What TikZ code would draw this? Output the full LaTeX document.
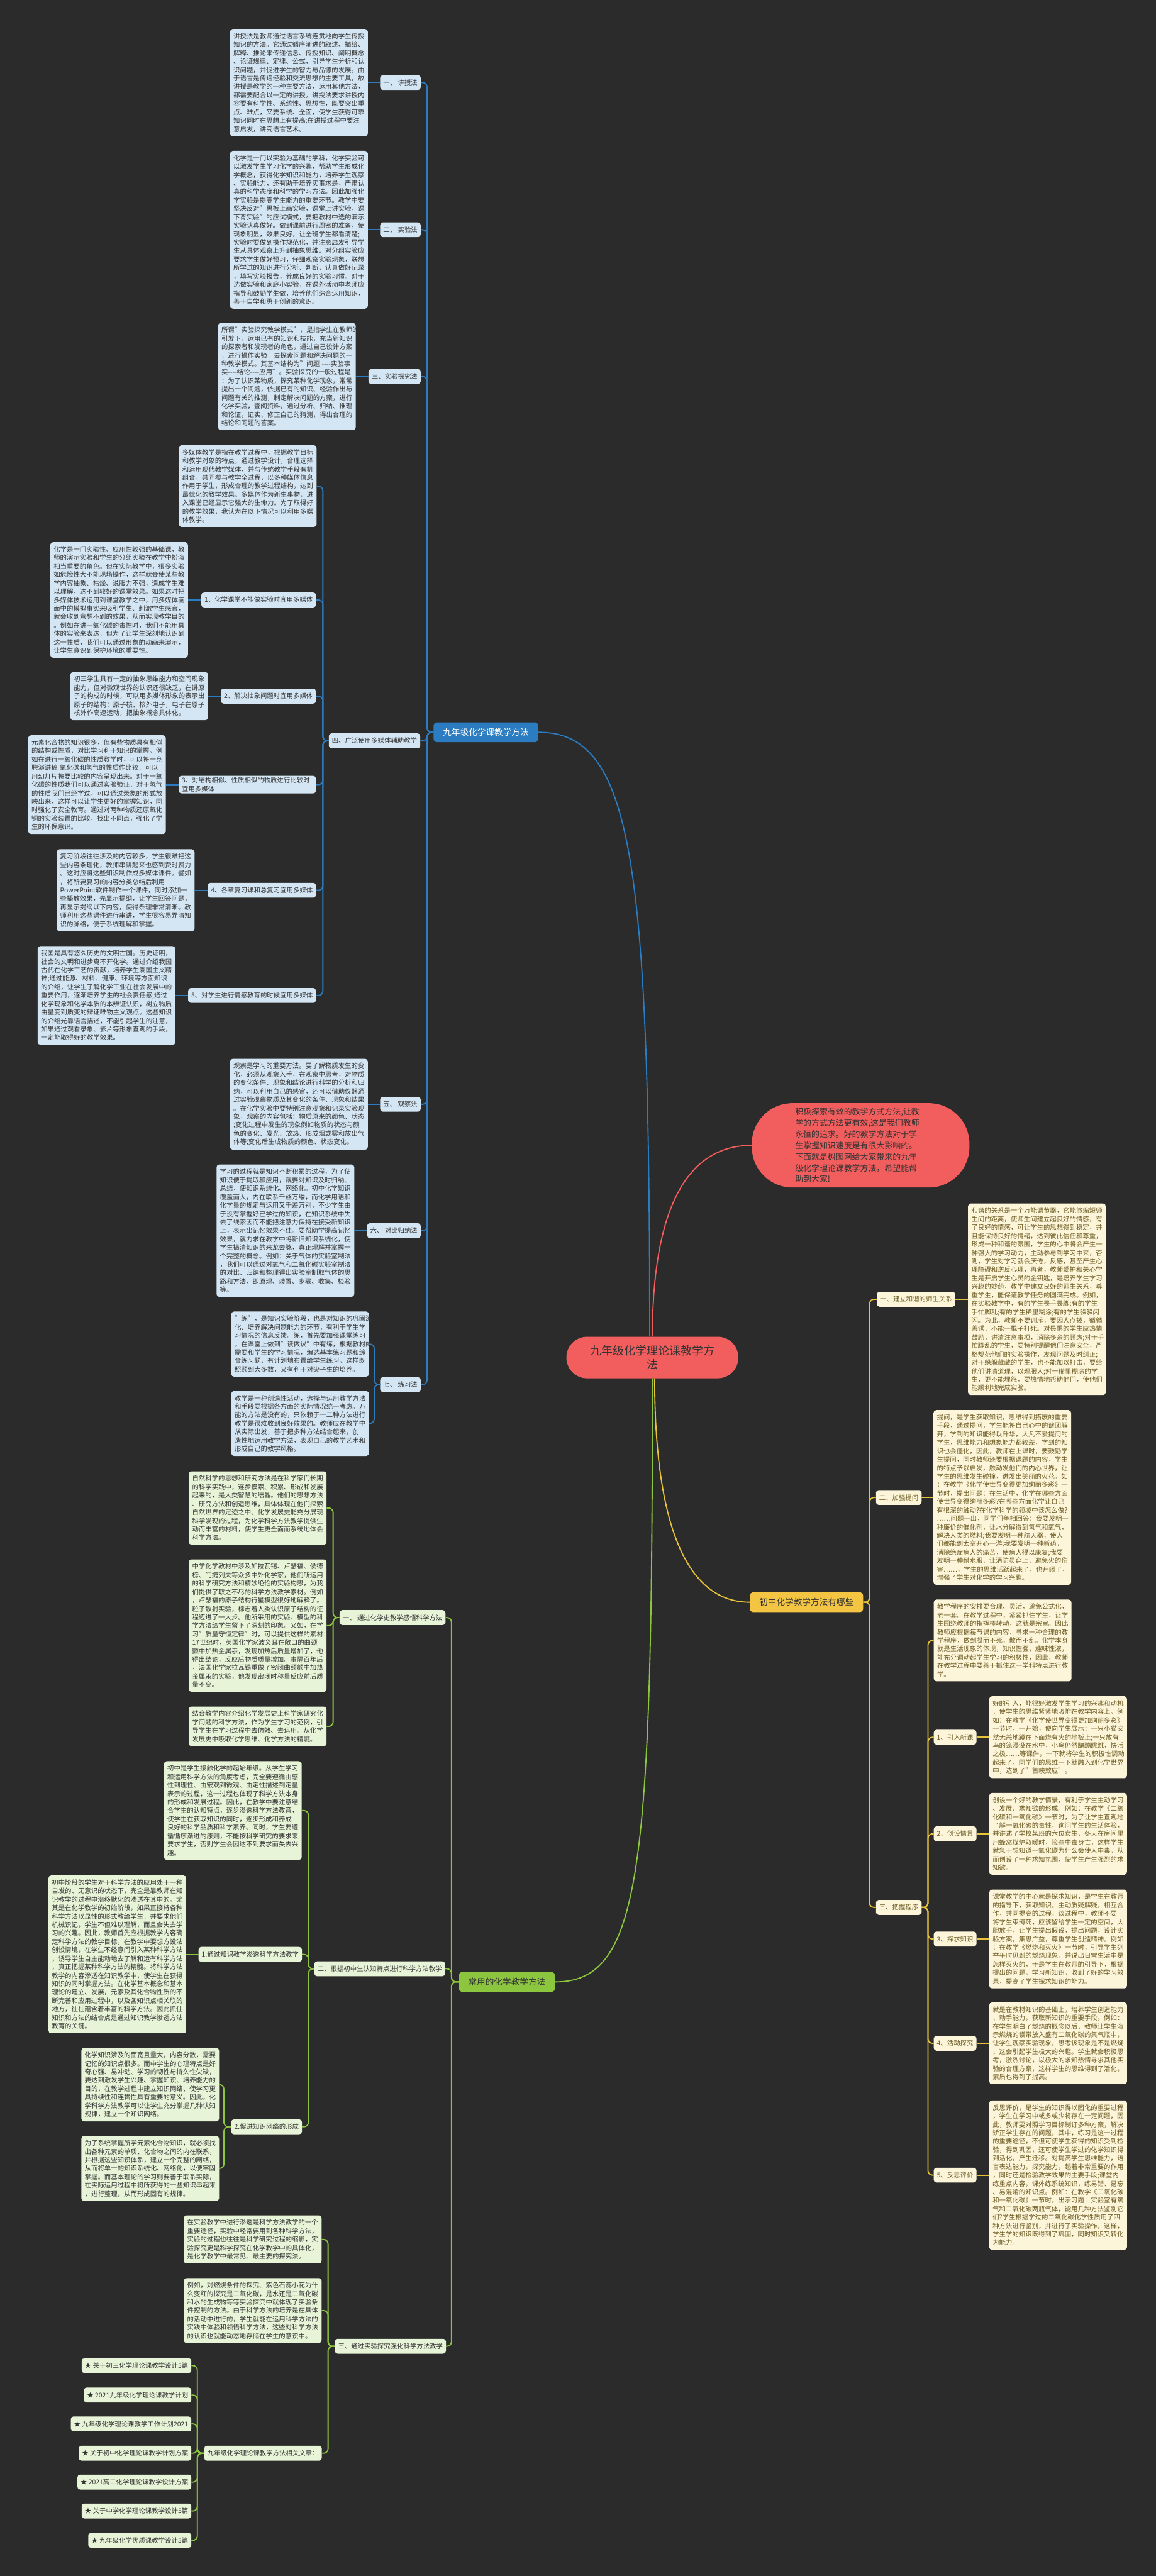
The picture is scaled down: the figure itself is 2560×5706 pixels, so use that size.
\documentclass[tikz,border=0pt]{standalone}
\usepackage{fontspec}
\setmainfont{Noto Sans CJK SC}
\usetikzlibrary{positioning}
\definecolor{bg}{HTML}{2B2B2B}
\definecolor{bluefill}{HTML}{D4E6F4}
\definecolor{blueline}{HTML}{2B7CC1}
\definecolor{greenfill}{HTML}{E8F4D8}
\definecolor{greenline}{HTML}{8CC63F}
\definecolor{yelfill}{HTML}{FDF5D9}
\definecolor{yeltext}{HTML}{6B5A22}
\definecolor{yelline}{HTML}{E8C33A}
\definecolor{orangenode}{HTML}{F4C542}
\definecolor{redfill}{HTML}{F25D5D}
\definecolor{darktext}{HTML}{333333}

\begin{document}
\begin{tikzpicture}[x=1pt,y=-1pt,
    txt/.style={font=\fontsize{14.5}{18.7}\selectfont},
    box/.style={txt,rounded corners=6pt,text width=290pt,align=left,inner xsep=7.5pt,inner ysep=9pt},
    bluebox/.style={box,fill=bluefill,text=darktext},
    greenbox/.style={box,fill=greenfill,text=darktext},
    yelbox/.style={box,fill=yelfill,text=yeltext},
    lbl/.style={txt,rounded corners=6pt,inner xsep=7pt,minimum height=33pt,align=left},
    bluelbl/.style={lbl,fill=bluefill,text=darktext},
    greenlbl/.style={lbl,fill=greenfill,text=darktext},
    yellbl/.style={lbl,fill=yelfill,text=yeltext},
    branch/.style={font=\fontsize{19}{22}\selectfont,rounded corners=8pt,inner xsep=21pt,minimum height=44pt},
    bl/.style={draw=blueline,line width=2.6pt,rounded corners=10pt},
    gl/.style={draw=greenline,line width=2.6pt,rounded corners=10pt},
    yl/.style={draw=yelline,line width=2.6pt,rounded corners=10pt},
    rl/.style={draw=redfill,line width=2.6pt}
]
\useasboundingbox (0,0) rectangle (2560,5706);
\fill[bg] (0,0) rectangle (2560,5706);

% centre and intro
\node[fill=redfill,text=darktext,rounded corners=46pt,font=\fontsize{25}{31.6}\selectfont,align=center,minimum width=381pt,minimum height=92pt] (root) at (1445,3007) {九年级化学理论课教学方\\法};
\node[fill=redfill,text=darktext,rounded corners=90pt,font=\fontsize{18}{25}\selectfont,text width=290pt,align=left,inner xsep=96pt,inner ysep=10pt,anchor=west] (intro) at (1665,2537)
    {积极探索有效的教学方式方法,让教\\学的方式方法更有效,这是我们教师\\永恒的追求。好的教学方法对于学\\生掌握知识速度是有很大影响的。\\下面就是树图网给大家带来的九年\\级化学理论课教学方法，希望能帮\\助到大家!};

\node[branch,fill=blueline,text=white,anchor=west] (blue) at (960,1622) {九年级化学课教学方法};
\node[branch,fill=orangenode,text=darktext,anchor=east] (orange) at (1912,3549) {初中化学教学方法有哪些};
\node[branch,fill=greenline,text=darktext,anchor=west] (green) at (1016,4390) {常用的化学教学方法};

% blue branch
\node[bluelbl,anchor=east] (l1) at (932,183) {一、 讲授法};
\node[bluelbl,anchor=east] (l2) at (932,509) {二、 实验法};
\node[bluelbl,anchor=east] (l3) at (932,834) {三、实验探究法};
\node[bluelbl,anchor=east] (l4) at (931,1641) {四、广泛使用多媒体辅助教学};
\node[bluelbl,anchor=east] (l5) at (932,2446) {五、 观察法};
\node[bluelbl,anchor=east] (l6) at (932,2726) {六、 对比归纳法};
\node[bluelbl,anchor=east] (l7) at (932,3067) {七、 练习法};

\node[bluebox,left=27pt of l1] (a1) {讲授法是教师通过语言系统连贯地向学生传授\\知识的方法。它通过循序渐进的叙述、描绘、\\解释、推论来传递信息、传授知识、阐明概念\\、论证规律、定律、公式，引导学生分析和认\\识问题，并促进学生的智力与品德的发展。由\\于语言是传递经验和交流思想的主要工具，故\\讲授是教学的一种主要方法，运用其他方法，\\都需要配合以一定的讲授。讲授法要求讲授内\\容要有科学性、系统性、思想性，既要突出重\\点、难点，又要系统、全面，使学生获得可靠\\知识同时在思想上有提高;在讲授过程中要注\\意启发，讲究语言艺术。};
\node[bluebox,left=27pt of l2] (a2) {化学是一门以实验为基础的学科，化学实验可\\以激发学生学习化学的兴趣，帮助学生形成化\\学概念，获得化学知识和能力，培养学生观察\\、实验能力，还有助于培养实事求是，严肃认\\真的科学态度和科学的学习方法。因此加强化\\学实验是提高学生能力的重要环节。教学中要\\坚决反对"黑板上画实验，课堂上讲实验，课\\下背实验"的应试模式，要把教材中选的演示\\实验认真做好。做到课前进行周密的准备，使\\现象明显，效果良好，让全班学生都看清楚;\\实验时要做到操作规范化，并注意启发引导学\\生从具体观察上升到抽象思维。对分组实验应\\要求学生做好预习，仔细观察实验现象，联想\\所学过的知识进行分析、判断，认真做好记录\\，填写实验报告，养成良好的实验习惯。对于\\选做实验和家庭小实验，在课外活动中老师应\\指导和鼓励学生做，培养他们综合运用知识，\\善于自学和勇于创新的意识。};
\node[bluebox,left=28pt of l3] (a3) {所谓"实验探究教学模式"，是指学生在教师的\\引发下，运用已有的知识和技能，充当新知识\\的探索者和发现者的角色，通过自己设计方案\\，进行操作实验，去探索问题和解决问题的一\\种教学模式。其基本结构为"问题 -\kern0pt-\kern0pt-\kern0pt-实验事\\实-\kern0pt-\kern0pt-\kern0pt-结论-\kern0pt-\kern0pt-\kern0pt-应用"。实验探究的一般过程是\\：为了认识某物质，探究某种化学现象，常常\\提出一个问题，依据已有的知识、经验作出与\\问题有关的推测，制定解决问题的方案，进行\\化学实验，查阅资料，通过分析、归纳、推理\\和论证，证实、修正自己的猜测，得出合理的\\结论和问题的答案。};
\node[bluebox,anchor=north west] (d0) at (396,986) {多媒体教学是指在教学过程中，根据教学目标\\和教学对象的特点，通过教学设计，合理选择\\和运用现代教学媒体，并与传统教学手段有机\\组合，共同参与教学全过程，以多种媒体信息\\作用于学生，形成合理的教学过程结构，达到\\最优化的教学效果。多媒体作为新生事物，进\\入课堂已经显示它强大的生命力。为了取得好\\的教学效果，我认为在以下情况可以利用多媒\\体教学。};
\node[bluelbl,anchor=east] (i1) at (700,1329) {1、化学课堂不能做实验时宜用多媒体};
\node[bluelbl,anchor=east] (i2) at (700,1542) {2、解决抽象问题时宜用多媒体};
\node[bluelbl,anchor=east,text width=290pt] (i3) at (700,1738) {3、对结构相似、性质相似的物质进行比较时\\宜用多媒体};
\node[bluelbl,anchor=east] (i4) at (700,1972) {4、各章复习课和总复习宜用多媒体};
\node[bluelbl,anchor=east] (i5) at (700,2205) {5、对学生进行情感教育的时候宜用多媒体};
\node[bluebox,left=29pt of i1] (e1) {化学是一门实验性、应用性较强的基础课，教\\师的演示实验和学生的分组实验在教学中扮演\\相当重要的角色。但在实际教学中，很多实验\\如危险性大不能现场操作，这样就会使某些教\\学内容抽象、枯燥、说服力不强，造成学生难\\以理解，达不到较好的课堂效果。如果这时把\\多媒体技术运用到课堂教学之中，用多媒体画\\面中的模拟事实来吸引学生、刺激学生感官，\\就会收到意想不到的效果，从而实现教学目的\\。例如在讲一氧化碳的毒性时，我们不能用具\\体的实验来表达，但为了让学生深刻地认识到\\这一性质，我们可以通过形象的动画来演示，\\让学生意识到保护环境的重要性。};
\node[bluebox,left=28pt of i2] (e2) {初三学生具有一定的抽象思维能力和空间现象\\能力，但对微观世界的认识还很缺乏，在讲原\\子的构成的时候，可以用多媒体形象的表示出\\原子的结构：原子核、核外电子，电子在原子\\核外作高速运动，把抽象概念具体化。};
\node[bluebox,left=28pt of i3] (e3) {元素化合物的知识很多，但有些物质具有相似\\的结构或性质，对比学习利于知识的掌握。例\\如在进行一氧化碳的性质教学时，可以将一竞\\聘演讲稿 氧化碳和氢气的性质作比较，可以\\用幻灯片将要比较的内容呈现出来。对于一氧\\化碳的性质我们可以通过实验验证，对于氢气\\的性质我们已经学过，可以通过录象的形式放\\映出来，这样可以让学生更好的掌握知识，同\\时强化了安全教育。通过对两种物质还原氧化\\铜的实验装置的比较，找出不同点，强化了学\\生的环保意识。};
\node[bluebox,left=29pt of i4] (e4) {复习阶段往往涉及的内容较多，学生很难把这\\些内容条理化，教师串讲起来也感到费时费力\\。这时应将这些知识制作成多媒体课件。譬如\\，将所要复习的内容分类总结后利用\\PowerPoint软件制作一个课件，同时添加一\\些播放效果，先显示提纲，让学生回答问题，\\再显示提纲以下内容，使得条理非常清晰。教\\师利用这些课件进行串讲，学生很容易弄清知\\识的脉络，便于系统理解和掌握。};
\node[bluebox,left=28pt of i5] (e5) {我国是具有悠久历史的文明古国。历史证明，\\社会的文明和进步离不开化学。通过介绍我国\\古代在化学工艺的贡献，培养学生爱国主义精\\神;通过能源、材料、健康、环境等方面知识\\的介绍，让学生了解化学工业在社会发展中的\\重要作用，逐渐培养学生的社会责任感;通过\\化学现象和化学本质的本辨证认识，树立物质\\由量变到质变的辩证唯物主义观点。这些知识\\的介绍光靠语言描述，不能引起学生的注意，\\如果通过观看录象、影片等形象直观的手段，\\一定能取得好的教学效果。};
\node[bluebox,left=27pt of l5] (a5) {观察是学习的重要方法。要了解物质发生的变\\化，必须从观察入手，在观察中思考，对物质\\的变化条件、现象和结论进行科学的分析和归\\纳，可以利用自己的感官，还可以借助仪器通\\过实验观察物质及其变化的条件、现象和结果\\。在化学实验中要特别注意观察和记录实验现\\象，观察的内容包括：物质原来的颜色、状态\\;变化过程中发生的现象例如物质的状态与颜\\色的变化、发光、放热、形成烟或雾和放出气\\体等;变化后生成物质的颜色、状态变化。};
\node[bluebox,left=28pt of l6] (a6) {学习的过程就是知识不断积累的过程，为了使\\知识便于提取和应用，就要对知识及时归纳、\\总结，使知识系统化、网络化。初中化学知识\\覆盖面大，内在联系千丝万缕，而化学用语和\\化学量的规定与运用又千差万别，不少学生由\\于没有掌握好已学过的知识，在知识系统中失\\去了线索因而不能把注意力保持在接受新知识\\上，表示出记忆效果不佳。要帮助学提高记忆\\效果，就力求在教学中将新旧知识系统化，使\\学生搞清知识的来龙去脉，真正理解并掌握一\\个完整的概念。例如：关于气体的实验室制法\\，我们可以通过对氧气和二氧化碳实验室制法\\的对比、归纳和整理得出实验室制取气体的思\\路和方法，即原理、装置、步骤、收集、检验\\等。};
\node[bluebox,anchor=north west] (pr1) at (512,2905) {"练"，是知识实验阶段，也是对知识的巩固深\\化、培养解决问题能力的环节，有利于学生学\\习情况的信息反馈。练，首先要加强课堂练习\\，在课堂上做到"读做议"中有练，根据教材的\\需要和学生的学习情况，编选基本练习题和综\\合练习题，有计划地布置给学生练习，这样既\\照顾到大多数，又有利于对尖子生的培养。};
\node[bluebox,anchor=north west] (pr2) at (512,3081) {教学是一种创造性活动，选择与运用教学方法\\和手段要根据各方面的实际情况统一考虑。万\\能的方法是没有的，只依赖于一二种方法进行\\教学是很难收到良好效果的。教师应在教学中\\从实际出发，善于把多种方法结合起来，创\\造性地运用教学方法，表现自己的教学艺术和\\形成自己的教学风格。};

\foreach \n in {l1,l2,l3,l4,l5,l6,l7}
    \draw[bl] (\n.east) -| ([xshift=-14pt]blue.west) -- (blue.west);
\foreach \b/\l in {a1/l1,a2/l2,a3/l3,a5/l5,a6/l6}
    \draw[bl] (\b.east) -- (\l.west);
\foreach \n in {d0,i1,i2,i3,i4,i5}
    \draw[bl] (\n.east) -| ([xshift=-13pt]l4.west) -- (l4.west);
\foreach \n in {1,...,5}
    \draw[bl] (e\n.east) -- (i\n.west);
\foreach \n in {pr1,pr2}
    \draw[bl] (\n.east) -| ([xshift=-13pt]l7.west) -- (l7.west);

% yellow branch
\node[yellbl,anchor=west] (y1) at (1942,2878) {一、建立和谐的师生关系};
\node[yellbl,anchor=west] (y2) at (1940,3317) {二、加强提问};
\node[yellbl,anchor=west] (y3) at (1940,4225) {三、把握程序};
\node[yelbox,right=28pt of y1] (h1) {和谐的关系是一个万能调节器，它能够缩短师\\生间的距离，使师生间建立起良好的情感，有\\了良好的情感，可让学生的思想得到稳定，并\\且能保持良好的情绪，达到彼此信任和尊重，\\形成一种和谐的氛围，学生的心中将会产生一\\种强大的学习动力，主动参与到学习中来，否\\则，学生对学习就会厌倦，反感，甚至产生心\\理障碍和逆反心理，再者，教师爱护和关心学\\生是开启学生心灵的金钥匙，是培养学生学习\\兴趣的妙药，教学中建立良好的师生关系，尊\\重学生，能保证教学任务的圆满完成。例如，\\在实验教学中，有的学生畏手畏脚;有的学生\\手忙脚乱;有的学生稀里糊涂;有的学生躲躲闪\\闪。为此，教师不要训斥，要因人点拨，循循\\善诱，不能一棍子打死。对畏惧的学生应热情\\鼓励，讲清注意事项，消除多余的顾虑;对于手\\忙脚乱的学生，要特别提醒他们注意安全，严\\格规范他们的实验操作，发现问题及时纠正;\\对于躲躲藏藏的学生，也不能加以打击，要给\\他们讲清道理，以理服人;对于稀里糊涂的学\\生，更不能埋怨，要热情地帮助他们，使他们\\能顺利地完成实验。};
\node[yelbox,right=26pt of y2] (h2) {提问，是学生获取知识，思维得到拓展的重要\\手段，通过提问，学生能将自己心中的谜团解\\开，学到的知识能得以升华，大凡不爱提问的\\学生，思维能力和想象能力都较差，学到的知\\识也会僵化，因此，教师在上课时，要鼓励学\\生提问，同时教师还要根据课题的内容，学生\\的特点予以启发，触动发他们的内心世界，让\\学生的思维发生碰撞，迸发出美丽的火花。如\\：在教学《化学使世界变得更加绚丽多彩》一\\节时，提出问题：在生活中，化学在哪些方面\\使世界变得绚丽多彩?在哪些方面化学让自己\\有很深的触动?在化学科学的领域中该怎么做?\\……问题一出，同学们争相回答：我要发明一\\种廉价的催化剂，让水分解得到氢气和氧气，\\解决人类的燃料;我要发明一种航天器，使人\\们都能到太空开心一游;我要发明一种新药，\\消除绝症病人的痛苦，使病人得以康复;我要\\发明一种耐水服，让消防员穿上，避免火的伤\\害……，学生的思维活跃起来了，也开阔了，\\增强了学生对化学的学习兴趣。};
\node[yelbox,anchor=north west] (c0) at (2068,3543) {教学程序的安排要合理、灵活，避免公式化，\\老一套。在教学过程中，紧紧抓住学生，让学\\生围绕教师的指挥棒转动，这就是宗旨。因此\\教师应根据每节课的内容，寻求一种合理的教\\学程序，做到凝而不死，散而不乱。化学本身\\就是生活现象的体现，知识性强，趣味性浓，\\能充分调动起学生学习的积极性，因此，教师\\在教学过程中要善于抓住这一学科特点进行教\\学。};
\node[yellbl,anchor=west] (t1) at (2068,3848) {1、引入新课};
\node[yellbl,anchor=west] (t2) at (2068,4062) {2、创设情景};
\node[yellbl,anchor=west] (t3) at (2068,4295) {3、探求知识};
\node[yellbl,anchor=west] (t4) at (2068,4526) {4、活动探究};
\node[yellbl,anchor=west] (t5) at (2068,4818) {5、反思评价};
\node[yelbox,right=28pt of t1] (q1) {好的引入，能很好激发学生学习的兴趣和动机\\，使学生的思维紧紧地吸附在教学内容上。例\\如：在教学《化学使世界变得更加绚丽多彩》\\一节时，一开始，便向学生展示：一只小猫安\\然无恙地蹲在下面烧有火的地板上;一只放有\\鸟的笼浸没在水中，小鸟仍然蹦蹦跳跳，快活\\之极……等课件，一下就将学生的积极性调动\\起来了，同学们的思维一下就融入到化学世界\\中，达到了"首映效应"。};
\node[yelbox,right=28pt of t2] (q2) {创设一个好的教学情景，有利于学生主动学习\\、发展、求知欲的形成。例如：在教学《二氧\\化碳和一氧化碳》一节时，为了让学生直观地\\了解一氧化碳的毒性，询问学生的生活体验，\\并讲述了学校某班的六位女生，冬天在房间里\\用蜂窝煤炉取暖时，险些中毒身亡，这样学生\\就急于想知道一氧化碳为什么会使人中毒，从\\而创设了一种求知氛围，使学生产生强烈的求\\知欲。};
\node[yelbox,right=28pt of t3] (q3) {课堂教学的中心就是探求知识，是学生在教师\\的指导下，获取知识，主动质疑解疑，相互合\\作，共同提高的过程。该过程中，教师不要\\将学生束缚死，应该留给学生一定的空间，大\\胆放手，让学生提出假设，提出问题，设计实\\验方案，集思广益，尊重学生创造精神。例如\\：在教学《燃烧和灭火》一节时，引导学生列\\举平时见到的燃烧现象，并说出日常生活中是\\怎样灭火的，于是学生在教师的引导下，根据\\提出的问题，学习新知识，收到了好的学习效\\果，提高了学生探求知识的能力。};
\node[yelbox,right=28pt of t4] (q4) {就是在教材知识的基础上，培养学生创造能力\\、动手能力，获取新知识的重要手段。例如：\\在学生明白了燃烧的概念以后，教师让学生演\\示燃烧的镁带放入盛有二氧化碳的集气瓶中，\\让学生观察实验现象，思考该现象是不是燃烧\\，这会引起学生极大的兴趣。学生就会积极思\\考，激烈讨论，以极大的求知热情寻求其他实\\验的合理方案，这样学生的思维得到了活化，\\素质也得到了提高。};
\node[yelbox,right=28pt of t5] (q5) {反思评价，是学生的知识得以固化的重要过程\\，学生在学习中或多或少将存在一定问题，因\\此，教师要对照学习目标制订多种方案，解决\\矫正学生存在的问题，其中，练习是这一过程\\的重要途径，不但可使学生获得的知识受到检\\验，得到巩固，还可使学生学过的化学知识得\\到活化，产生迁移。对提高学生思维能力，语\\言表达能力，探究能力，起着非常重要的作用\\，同时还是检验教学效果的主要手段;课堂内\\练重点内容，课外练系统知识，练易错、易忘\\、易混淆的知识点。例如：在教学《二氧化碳\\和一氧化碳》一节时，出示习题：实验室有氧\\气和二氧化碳两瓶气体，能用几种方法鉴别它\\们?学生根据学过的二氧化碳化学性质用了四\\种方法进行鉴别，并进行了实验操作，这样，\\学生学的知识既得到了巩固，同时知识又转化\\为能力。};

\foreach \n in {y1,y2,y3}
    \draw[yl] (orange.east) -- ([xshift=14pt]orange.east) |- (\n.west);
\draw[yl] (y1.east) -- (h1.west);
\draw[yl] (y2.east) -- (h2.west);
\foreach \n in {c0,t1,t2,t3,t4,t5}
    \draw[yl] (y3.east) -- ([xshift=14pt]y3.east) |- (\n.west);
\foreach \n in {1,...,5}
    \draw[yl] (t\n.east) -- (q\n.west);

% green branch
\node[greenlbl,anchor=east] (g1) at (987,3583) {一、 通过化学史教学感悟科学方法};
\node[greenlbl,anchor=east] (g2) at (986,4361) {二、根据初中生认知特点进行科学方法教学};
\node[greenlbl,anchor=east] (g3) at (988,5197) {三、通过实验探究强化科学方法教学};
\node[greenbox,anchor=north west] (m1) at (418,3259) {自然科学的思想和研究方法是在科学家们长期\\的科学实践中，逐步摸索、积累、形成和发展\\起来的，是人类智慧的结晶。他们的思想方法\\、研究方法和创造思维，具体体现在他们探索\\自然世界的足迹之中。化学发展史能充分展现\\科学发现的过程，为化学科学方法教学提供生\\动而丰富的材料，使学生更全面而系统地体会\\科学方法。};
\node[greenbox,anchor=north west] (m2) at (418,3454) {中学化学教材中涉及如拉瓦锡、卢瑟福、侯德\\榜、门捷列夫等众多中外化学家，他们所运用\\的科学研究方法和精妙绝伦的实验构思，为我\\们提供了取之不尽的科学方法教学素材。例如\\，卢瑟福的原子结构行星模型很好地解释了。\\粒子散射实验，标志着人类认识原子结构的征\\程迈进了一大步。他所采用的实验、模型的科\\学方法给学生留下了深刻的印象。又如，在学\\习"质量守恒定律"时，可以提供这样的素材：\\17世纪时，英国化学家波义耳在敞口的曲颈\\颤中加热金属汞，发现加热后质量增加了，他\\得出结论，反应后物质质量增加。事隔百年后\\，法国化学家拉瓦锡重做了密闭曲颈颤中加热\\金属汞的实验，他发现密闭时称量反应前后质\\量不变。};
\node[greenbox,anchor=north west] (m3) at (418,3780) {结合教学内容介绍化学发展史上科学家研究化\\学问题的科学方法，作为学生学习的范例，引\\导学生在学习过程中去仿效、去运用。从化学\\发展史中吸取化学思维、化学方法的精髓。};
\node[greenbox,anchor=north west] (n0) at (363,3901) {初中是学生接触化学的起始年级。从学生学习\\和运用科学方法的角度考虑，完全要遵循由感\\性到理性、由宏观到微观、由定性描述到定量\\表示的过程，这一过程也体现了科学方法本身\\的形成和发展过程。因此，在教学中要注意结\\合学生的认知特点，逐步渗透科学方法教育，\\使学生在获取知识的同时，逐步形成和养成\\良好的科学品质和科学素养。同时，学生要遵\\循循序渐进的原则，不能按科学研究的要求来\\要求学生，否则学生会因达不到要求而失去兴\\趣。};
\node[greenlbl,anchor=east] (s1) at (669,4329) {1.通过知识教学渗透科学方法教学};
\node[greenlbl,anchor=east] (s2) at (669,4711) {2.促进知识网络的形成};
\node[greenbox,left=27pt of s1] (n1) {初中阶段的学生对于科学方法的应用处于一种\\自发的、无意识的状态下，完全是靠教师在知\\识教学的过程中潜移默化的渗透在其中的。尤\\其是在化学教学的初始阶段，如果直接将各种\\科学方法以显性的形式教给学生，并要求他们\\机械识记，学生不但难以理解，而且会失去学\\习的兴趣。因此，教师首先应根据教学内容确\\定科学方法的教学目标，在教学中要想方设法\\创设情境，在学生不经意间引入某种科学方法\\，诱导学生自主能动地去了解和运有科学方法\\，真正把握某种科学方法的精髓。将科学方法\\教学的内容渗透在知识教学中，使学生在获得\\知识的同时掌握方法。在化学基本概念和基本\\理论的建立、发展，元素及其化合物性质的不\\断完善和应用过程中，以及各知识点相关联的\\地方，往往蕴含着丰富的科学方法。因此抓住\\知识和方法的结合点是通过知识教学渗透方法\\教育的关键。};
\node[greenbox,anchor=north west] (w1) at (180,4536) {化学知识涉及的面宽且量大，内容分散，需要\\记忆的知识点很多。而中学生的心理特点是好\\奇心强、易冲动、学习的韧性与持久性欠缺，\\要达到激发学生兴趣、掌握知识、培养能力的\\目的，在教学过程中建立知识网络、使学习更\\具持续性和连贯性具有重要的意义。因此，化\\学科学方法教学可以让学生充分掌握几种认知\\规律，建立一个知识网络。};
\node[greenbox,anchor=north west] (w2) at (180,4731) {为了系统掌握所学元素化合物知识，就必须找\\出各种元素的单质、化合物之间的内在联系，\\并根据这些知识体系，建立一个完整的网络，\\从而将单一的知识系统化、网络化，以便牢固\\掌握。而基本理论的学习则要善于联系实际，\\在实际运用过程中将所获得的一些知识串起来\\，进行整理，从而形成固有的规律。};
\node[greenbox,anchor=north west] (r1) at (407,4907) {在实验教学中进行渗透是科学方法教学的一个\\重要途径，实验中经常要用到各种科学方法，\\实验的过程也往往是科学研究过程的缩影，实\\验探究更是科学探究在化学教学中的具体化，\\是化学教学中最常见、最主要的探究法。};
\node[greenbox,anchor=north west] (r2) at (407,5046) {例如，对燃烧条件的探究、紫色石蕊小花为什\\么变红的探究是二氧化碳，是水还是二氧化碳\\和水的生成物等等实验探究中就体现了实验条\\件控制的方法。由于科学方法的培养是在具体\\的活动中进行的，学生就能在运用科学方法的\\实践中体验和领悟科学方法，这些对科学方法\\的认识也就能动态地存储在学生的意识中。};
\node[greenlbl,anchor=east] (rel) at (713,5434) {九年级化学理论课教学方法相关文章：};
\node[greenlbl,anchor=east] (st1) at (424,5240) {★ 关于初三化学理论课教学设计5篇};
\node[greenlbl,anchor=east] (st2) at (424,5305) {★ 2021九年级化学理论课教学计划};
\node[greenlbl,anchor=east] (st3) at (424,5369) {★ 九年级化学理论课教学工作计划2021};
\node[greenlbl,anchor=east] (st4) at (424,5434) {★ 关于初中化学理论课教学计划方案};
\node[greenlbl,anchor=east] (st5) at (424,5498) {★ 2021高二化学理论课教学设计方案};
\node[greenlbl,anchor=east] (st6) at (424,5562) {★ 关于中学化学理论课教学设计5篇};
\node[greenlbl,anchor=east] (st7) at (424,5627) {★ 九年级化学优质课教学设计5篇};

\foreach \n in {g1,g2,g3}
    \draw[gl] (\n.east) -| ([xshift=-16pt]green.west) -- (green.west);
\foreach \n in {m1,m2,m3}
    \draw[gl] (\n.east) -| ([xshift=-14pt]g1.west) -- (g1.west);
\foreach \n in {n0,s1,s2}
    \draw[gl] (\n.east) -| ([xshift=-13pt]g2.west) -- (g2.west);
\draw[gl] (n1.east) -- (s1.west);
\foreach \n in {w1,w2}
    \draw[gl] (\n.east) -| ([xshift=-16pt]s2.west) -- (s2.west);
\foreach \n in {r1,r2,rel}
    \draw[gl] (\n.east) -| ([xshift=-15pt]g3.west) -- (g3.west);
\foreach \n in {st1,st2,st3,st4,st5,st6,st7}
    \draw[gl] (\n.east) -| ([xshift=-15pt]rel.west) -- (rel.west);

% main branches
\draw[bl] ([xshift=-6pt]root.north) .. controls (1439,1900) and (1400,1622) .. (blue.east);
\draw[rl] (root.north) .. controls (1445,2680) and (1520,2537) .. (intro.west);
\draw[yl] ([xshift=5pt]root.south) .. controls (1450,3420) and (1540,3549) .. (orange.west);
\draw[gl] (root.south) .. controls (1445,4150) and (1420,4390) .. (green.east);
\end{tikzpicture}
\end{document}
